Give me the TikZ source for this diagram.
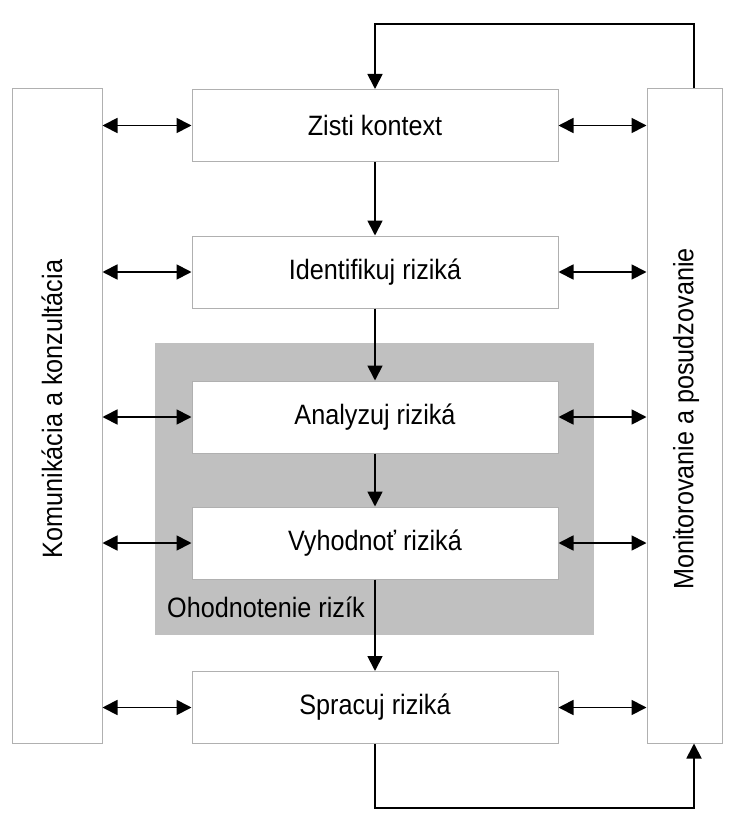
\documentclass[tikz,border=0pt]{standalone}
\usepackage{fontspec}
\setmainfont{Liberation Sans}[FakeStretch=0.9]
\usetikzlibrary{arrows.meta}
\definecolor{boxline}{HTML}{B0B0B0}
\definecolor{groupfill}{HTML}{C0C0C0}
\tikzset{
  stepbox/.style={draw=boxline, line width=1pt, fill=white, rectangle,
    minimum width=366pt, minimum height=72pt, inner sep=0pt,
    font=\fontsize{28}{32}\selectfont},
  sidebox/.style={draw=boxline, line width=1pt, fill=white, rectangle, inner sep=0pt},
  txt/.style={font=\fontsize{28}{32}\selectfont, inner sep=0pt},
  conn/.style={line width=1.8pt, -{Triangle[length=15pt,width=15pt]}},
  dbl/.style={line width=1.8pt, {Triangle[length=15pt,width=15pt]}-{Triangle[length=15pt,width=15pt]}},
}
\begin{document}
\begin{tikzpicture}[x=1pt,y=-1pt]
\useasboundingbox[fill=white] (0,0) rectangle (729,813);
% group background
\node[fill=groupfill, rectangle, minimum width=439pt, minimum height=292pt, inner sep=0pt] (grp) at (374.5,489) {};
\node[txt, anchor=base west] (grplabel) at (167,617) {Ohodnotenie rizík};
% side boxes
\node[sidebox, minimum width=90pt, minimum height=654pt] (left) at (57,416) {};
\node[sidebox, minimum width=75pt, minimum height=654pt] (right) at (684.5,416) {};
\node[txt, rotate=90] (lefttxt) at (52,409) {Komunikácia a konzultácia};
\node[txt, rotate=90] (righttxt) at (686,419) {Monitorovanie a posudzovanie};
% step boxes
\node[stepbox] (zk) at (375,125.5) {Zisti kontext};
\node[stepbox] (ir) at (375,272) {Identifikuj riziká};
\node[stepbox] (ar) at (375,417) {Analyzuj riziká};
\node[stepbox] (vr) at (375,543) {Vyhodnoť riziká};
\node[stepbox] (sr) at (375,707.5) {Spracuj riziká};
% vertical flow
\draw[conn] (zk.south) -- (ir.north);
\draw[conn] (ir.south) -- (ar.north);
\draw[conn] (ar.south) -- (vr.north);
\draw[conn] (vr.south) -- (sr.north);
% loops
\coordinate (tl) at (375,24);
\coordinate (tr) at (694,24);
\coordinate (bl) at (375,808);
\coordinate (br) at (694,808);
\draw[conn] (right.north -| tr) -- (tr) -- (tl) -- (zk.north);
\draw[conn] (sr.south) -- (bl) -- (br) -- (right.south -| br);
% side connectors
\foreach \n in {zk,ir,ar,vr,sr}{
  \draw[dbl] (left.east |- \n.west) -- (\n.west);
  \draw[dbl] (\n.east) -- (right.west |- \n.east);
}
\end{tikzpicture}
\end{document}
